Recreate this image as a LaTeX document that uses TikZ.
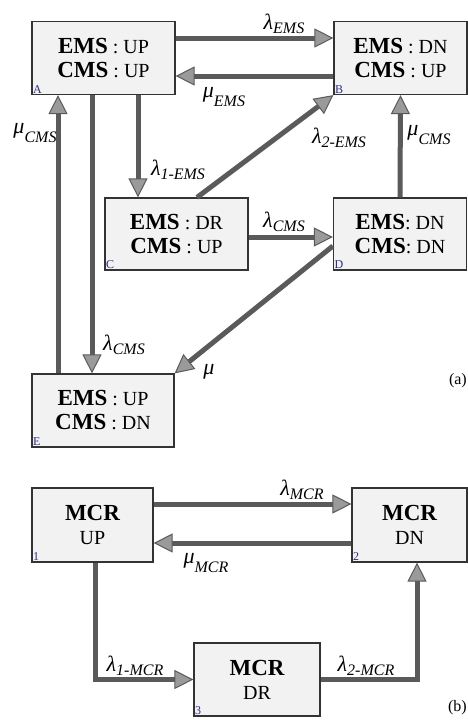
\documentclass[tikz,border=0pt]{standalone}
\usepackage{fontspec}
\setmainfont{Liberation Serif}
\usetikzlibrary{arrows.meta}

\definecolor{boxfill}{HTML}{F2F2F2}
\definecolor{boxedge}{HTML}{333333}
\definecolor{flowgray}{HTML}{5A5A5A}
\definecolor{tipgray}{HTML}{9A9A9A}
\definecolor{tagblue}{HTML}{2E2E8A}

\newcommand{\bigb}[1]{{\fontsize{23}{24}\selectfont\bfseries #1}}
\newcommand{\lamlbl}[1]{{\fontsize{22}{22}\selectfont\textit{λ}\raisebox{-4pt}{\fontsize{16}{16}\selectfont\textit{#1}}}}
\newcommand{\mulbl}[1]{{\fontsize{22}{22}\selectfont\textit{μ}\raisebox{-9pt}{\fontsize{16}{16}\selectfont\textit{#1}}}}

\tikzset{
	state/.style={draw=boxedge, fill=boxfill, line width=1.2pt, inner sep=0pt, align=center, font=\fontsize{20}{24}\selectfont},
	tag/.style={anchor=south west, inner sep=1.5pt, text=tagblue, font=\fontsize{12}{12}\selectfont},
	flow/.style={draw=flowgray, line width=5pt, -{Triangle[length=19pt,width=19pt,fill=tipgray,line width=1pt]}},
	rate/.style={inner sep=0pt}
}

\begin{document}
\begin{tikzpicture}[x=1pt,y=-1pt]
		
		\useasboundingbox (0,0) rectangle (468,720);
		
		% (a) states
		\node[state, minimum width=143pt, minimum height=73pt] (A) at (103.5,58) {\bigb{EMS} : UP\\\bigb{CMS} : UP};
		\node[state, minimum width=133pt, minimum height=73pt] (B) at (400.5,58) {\bigb{EMS} : DN\\\bigb{CMS} : UP};
		\node[state, minimum width=143pt, minimum height=72pt] (C) at (176.5,234) {\bigb{EMS} : DR\\\bigb{CMS} : UP};
		\node[state, minimum width=133pt, minimum height=72pt] (D) at (400,234) {\bigb{EMS}: DN\\\bigb{CMS}: DN};
		\node[state, minimum width=142pt, minimum height=73pt] (E) at (103,410.5) {\bigb{EMS} : UP\\\bigb{CMS} : DN};
		
		% corner tags
		\node[tag] (tA) at (A.south west) {A};
		\node[tag] (tB) at (B.south west) {B};
		\node[tag] (tC) at (C.south west) {C};
		\node[tag] (tD) at (D.south west) {D};
		\node[tag] (tE) at (E.south west) {E};
		
		% (a) transitions
		\draw[flow] ([yshift=20pt]A.east) -- ([yshift=20pt]B.west);
		\draw[flow] ([yshift=-18pt]B.west) -- ([yshift=-18pt]A.east);
		\draw[flow] ([xshift=34.5pt]A.south) -- ([xshift=34.5pt]A.south |- C.north);
		\draw[flow] ([xshift=-11.5pt]A.south) -- ([xshift=-11.5pt]A.south |- E.north);
		\draw[flow] ([xshift=-45pt]E.north) -- ([xshift=-45pt]E.north |- A.south);
		\draw[flow] ([xshift=20.5pt]C.north) -- (B.south west);
		\draw[flow] ([yshift=-3pt]C.east) -- ([yshift=-3pt]C.east -| D.west);
		\draw[flow] (D.north) -- (B.south);
		\draw[flow] ([yshift=-12pt]D.west) -- (E.north east);
		
		% (a) rates
		\node[rate] (rAB) at (284,24) {\lamlbl{EMS}};
		\node[rate] (rBA) at (224,97) {\mulbl{EMS}};
		\node[rate] (rAC) at (178,170) {\lamlbl{1-EMS}};
		\node[rate] (rEA) at (35,133) {\mulbl{CMS}};
		\node[rate] (rCB) at (339,138) {\lamlbl{2-EMS}};
		\node[rate] (rDB) at (429,135) {\mulbl{CMS}};
		\node[rate] (rCD) at (284,222) {\lamlbl{CMS}};
		\node[rate] (rAE) at (124,345) {\lamlbl{CMS}};
		\node[rate] (rDE) at (209,372) {\fontsize{22}{22}\selectfont\textit{μ}};
		\node[rate, anchor=east, font=\fontsize{16}{16}\selectfont] (capa) at (467,381) {(a)};
		
		% (b) states
		\node[state, minimum width=121pt, minimum height=74pt] (S1) at (92.5,525) {\bigb{MCR}\\UP};
		\node[state, minimum width=115pt, minimum height=74pt] (S2) at (409.5,525) {\bigb{MCR}\\DN};
		\node[state, minimum width=126pt, minimum height=73pt] (S3) at (257,679.5) {\bigb{MCR}\\DR};
		
		\node[tag] (t1) at (S1.south west) {1};
		\node[tag] (t2) at (S2.south west) {2};
		\node[tag] (t3) at (S3.south west) {3};
		
		% (b) transitions
		\draw[flow] ([yshift=21pt]S1.east) -- ([yshift=21pt]S2.west);
		\draw[flow] ([yshift=-18pt]S2.west) -- ([yshift=-18pt]S1.east);
		\draw[flow] ([xshift=2.5pt]S1.south) |- (S3.west);
		\draw[flow] (S3.east) -| ([xshift=7.5pt]S2.south);
		
		% (b) rates
		\node[rate] (r12) at (302,490) {\lamlbl{MCR}};
		\node[rate] (r21) at (206,563) {\mulbl{MCR}};
		\node[rate] (r13) at (135,666) {\lamlbl{1-MCR}};
		\node[rate] (r32) at (366,666) {\lamlbl{2-MCR}};
		\node[rate, anchor=east, font=\fontsize{16}{16}\selectfont] (capb) at (467,708) {(b)};
		
	\end{tikzpicture}
\end{document}
